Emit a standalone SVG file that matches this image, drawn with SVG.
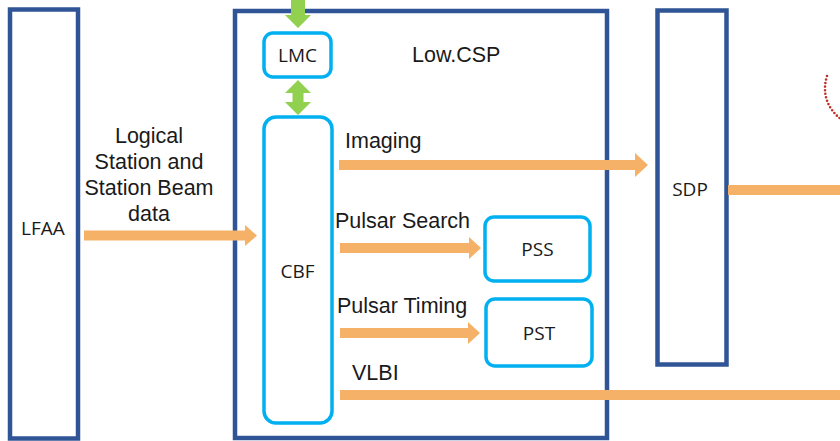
<svg xmlns="http://www.w3.org/2000/svg" width="840" height="441" viewBox="0 0 840 441">
  <style>
    .frame { fill: #ffffff; stroke: #2F5597; stroke-width: 4.5; }
    .unit { fill: #ffffff; stroke: #00B0F0; stroke-width: 3.5; }
    .flow { fill: #F4B167; }
    .ctl { fill: #92D050; }
    .lbl { font-family: "Liberation Sans", Arial, sans-serif; font-size: 21.5px; fill: #1a1a1a; }
    .box { font-family: "Open Sans", "Noto Sans", sans-serif; font-size: 19px; fill: #1a1a1a; text-anchor: middle; }
    .orbit { fill: none; stroke: #C0302A; stroke-width: 2.6; stroke-linecap: round; stroke-dasharray: 0 3.6; }
  </style>

  <rect width="840" height="441" fill="#ffffff"/>

  <!-- outer blocks -->
  <g id="lfaa">
    <rect class="frame" x="10" y="9.5" width="68" height="429"/>
    <text class="box" x="43" y="235">LFAA</text>
  </g>

  <g id="low-csp">
    <rect class="frame" x="235" y="11" width="372" height="427"/>
    <text class="lbl" x="412" y="62">Low.CSP</text>
  </g>

  <g id="sdp">
    <rect class="frame" x="657.5" y="10.5" width="69" height="354"/>
    <text class="box" x="690" y="196">SDP</text>
  </g>

  <!-- units inside Low.CSP -->
  <g id="lmc">
    <rect class="unit" x="264" y="33" width="67" height="44" rx="9"/>
    <text class="box" x="297.5" y="62">LMC</text>
  </g>

  <g id="cbf">
    <rect class="unit" x="264" y="117" width="68" height="306" rx="12"/>
    <text class="box" x="297.5" y="278">CBF</text>
  </g>

  <g id="pss">
    <rect class="unit" x="485" y="217" width="105" height="64" rx="9"/>
    <text class="box" x="537.5" y="256">PSS</text>
  </g>

  <g id="pst">
    <rect class="unit" x="486" y="299" width="106" height="67" rx="9"/>
    <text class="box" x="539" y="340">PST</text>
  </g>

  <!-- connectors -->
  <g id="connectors">
    <!-- control links to LMC -->
    <polygon class="ctl" points="291,0 305,0 305,15 311,15 298,28 285,15 291,15"/>
    <polygon class="ctl" points="298,80 311,93 303.5,93 303.5,102 311,102 298,115 285,102 292.5,102 292.5,93 285,93"/>

    <!-- data flows -->
    <polygon class="flow" points="84,230.5 245,230.5 245,225 257,235.5 245,246 245,240.5 84,240.5"/>
    <polygon class="flow" points="339,160 635,160 635,153 648,165 635,177 635,170 339,170"/>
    <polygon class="flow" points="340,243 469,243 469,237 481,248 469,259 469,253 340,253"/>
    <polygon class="flow" points="340,328 468,328 468,322 480,333 468,344 468,338 340,338"/>
    <rect class="flow" x="340" y="390" width="500" height="10"/>
    <rect class="flow" x="728" y="185" width="112" height="10"/>

    <!-- flow labels -->
    <text class="lbl" x="149" y="143" text-anchor="middle">Logical</text>
    <text class="lbl" x="149" y="169" text-anchor="middle">Station and</text>
    <text class="lbl" x="149" y="195" text-anchor="middle">Station Beam</text>
    <text class="lbl" x="149" y="221" text-anchor="middle">data</text>
    <text class="lbl" x="345" y="148">Imaging</text>
    <text class="lbl" x="335" y="228">Pulsar Search</text>
    <text class="lbl" x="337" y="313">Pulsar Timing</text>
    <text class="lbl" x="352" y="380">VLBI</text>
  </g>

  <!-- dotted arc at the right edge -->
  <path class="orbit" d="M827,76 C822,92 826,108 842,120"/>
</svg>
